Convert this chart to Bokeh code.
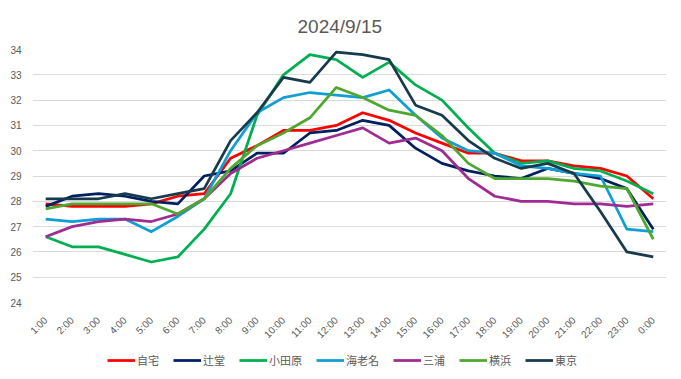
import math
from bokeh.plotting import figure
from bokeh.layouts import column
from bokeh.models import Range1d, FactorRange, Legend, LegendItem, SingleIntervalTicker
from bokeh.embed import file_html
from bokeh.resources import INLINE

hours = ["1:00", "2:00", "3:00", "4:00", "5:00", "6:00", "7:00", "8:00", "9:00", "10:00",
         "11:00", "12:00", "13:00", "14:00", "15:00", "16:00", "17:00", "18:00", "19:00",
         "20:00", "21:00", "22:00", "23:00", "0:00"]

jitaku = [27.9, 27.8, 27.8, 27.8, 27.9, 28.2, 28.3, 29.7, 30.2, 30.8, 30.8, 31.0, 31.5, 31.2,
          30.7, 30.3, 29.9, 29.9, 29.6, 29.6, 29.4, 29.3, 29.0, 28.1]
tsujido = [27.8, 28.2, 28.3, 28.2, 28.0, 27.9, 29.0, 29.2, 29.9, 29.9, 30.7, 30.8, 31.2, 31.0,
           30.1, 29.5, 29.2, 29.0, 28.9, 29.3, 29.1, 28.9, 28.5, 26.9]
odawara = [26.6, 26.2, 26.2, 25.9, 25.6, 25.8, 26.9, 28.3, 31.4, 33.0, 33.8, 33.6, 32.9, 33.5,
           32.6, 32.0, 30.9, 29.9, 29.5, 29.6, 29.3, 29.2, 28.8, 28.3]
ebina = [27.3, 27.2, 27.3, 27.3, 26.8, 27.4, 28.1, 30.0, 31.5, 32.1, 32.3, 32.2, 32.1, 32.4,
         31.4, 30.5, 30.0, 29.9, 29.4, 29.3, 29.1, 29.0, 26.9, 26.8]
miura = [26.6, 27.0, 27.2, 27.3, 27.2, 27.5, 28.1, 29.1, 29.7, 30.0, 30.3, 30.6, 30.9, 30.3,
         30.5, 30.0, 28.9, 28.2, 28.0, 28.0, 27.9, 27.9, 27.8, 27.9]
yokohama = [27.7, 27.9, 27.9, 27.9, 27.9, 27.5, 28.1, 29.3, 30.2, 30.7, 31.3, 32.5, 32.1, 31.6,
            31.4, 30.6, 29.5, 28.9, 28.9, 28.9, 28.8, 28.6, 28.5, 26.5]
tokyo = [28.1, 28.1, 28.1, 28.3, 28.1, 28.3, 28.5, 30.4, 31.5, 32.9, 32.7, 33.9, 33.8, 33.6,
         31.8, 31.4, 30.4, 29.7, 29.3, 29.5, 29.1, 27.6, 26.0, 25.8]

series_names = ["自宅", "辻堂", "小田原", "海老名", "三浦", "横浜", "東京"]
series_values = [jitaku, tsujido, odawara, ebina, miura, yokohama, tokyo]
series_colors = ["#FF0000", "#002060", "#00B050", "#0F9ED5", "#A02B93", "#4EA72E", "#173B4C"]

FONT = "'Liberation Sans', 'Noto Sans CJK JP', sans-serif"
GRAY = "#595959"

p = figure(frame_width=634, frame_height=253, x_range=FactorRange(*hours), y_range=Range1d(24, 34),
           output_backend="svg", toolbar_location=None,
           min_border_left=32, min_border_right=7, min_border_top=49, min_border_bottom=41)

p.title.text = "2024/9/15"
p.title.align = "left"
p.title.offset = 265
p.title.vertical_align = "top"
p.title.text_font = FONT
p.title.text_font_size = "19px"
p.title.text_font_style = "normal"
p.title.text_color = GRAY
p.title.standoff = 22

p.outline_line_color = None
p.xgrid.grid_line_color = None
p.ygrid.grid_line_color = "#D9D9D9"
p.ygrid.grid_line_width = 1

p.yaxis.ticker = SingleIntervalTicker(interval=1)
p.yaxis.axis_line_color = None
p.yaxis.major_tick_line_color = None
p.yaxis.minor_tick_line_color = None
p.yaxis.major_tick_out = 0
p.yaxis.minor_tick_out = 0
p.yaxis.major_label_standoff = 11
p.yaxis.major_label_text_font = FONT
p.yaxis.major_label_text_font_size = "10px"
p.yaxis.major_label_text_color = GRAY

p.xaxis.axis_line_color = None
p.xaxis.major_tick_line_color = None
p.xaxis.major_tick_out = 0
p.xaxis.major_label_orientation = math.pi / 4
p.xaxis.major_label_standoff = 16
p.xaxis.major_label_text_font = FONT
p.xaxis.major_label_text_font_size = "10px"
p.xaxis.major_label_text_color = GRAY

for vals, col in zip(series_values, series_colors):
    p.line(hours, vals, line_color=col, line_width=2.75, line_join="round")

# legend strip below the chart
lg = figure(width=673, height=28, x_range=Range1d(0, 1), y_range=Range1d(0, 1),
            x_axis_location=None, y_axis_location=None,
            output_backend="svg", toolbar_location=None, min_border=0)
lg.grid.visible = False
lg.outline_line_color = None
nan = float("nan")
items = []
for name, col in zip(series_names, series_colors):
    r = lg.line([nan], [nan], line_color=col, line_width=2.75)
    items.append(LegendItem(label=name, renderers=[r]))
legend = Legend(items=items, orientation="horizontal", location=(75, 6),
                glyph_width=28, glyph_height=12, label_height=12, label_standoff=2, spacing=14,
                label_text_font=FONT, label_text_font_size="11px", label_text_color=GRAY,
                border_line_color=None, background_fill_alpha=0, padding=0, margin=0)
lg.add_layout(legend, "center")

layout = column(p, lg, spacing=0)
open("out.html", "w").write(file_html(layout, INLINE))
